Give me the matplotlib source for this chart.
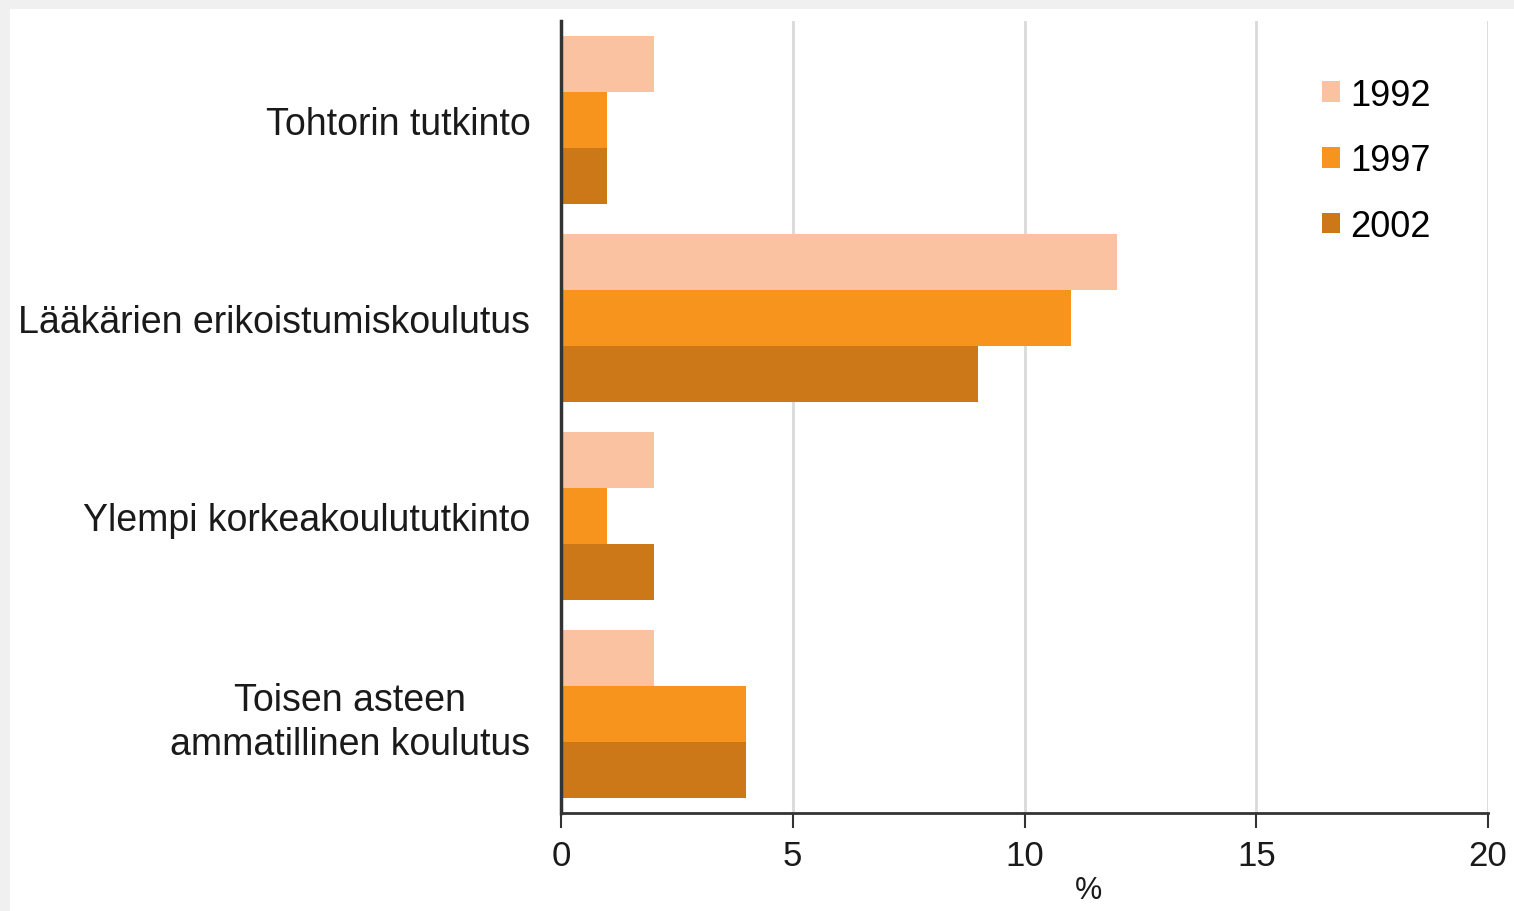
import matplotlib
matplotlib.use('Agg')
import matplotlib.pyplot as plt
from matplotlib.patches import Rectangle
import numpy as np

plt.rcParams['font.family'] = ['Liberation Sans', 'DejaVu Sans']

categories = ['Tohtorin tutkinto',
              'Lääkärien erikoistumiskoulutus',
              'Ylempi korkeakoulututkinto',
              'Toisen asteen\nammatillinen koulutus']
years = ['1992', '1997', '2002']
v1992 = [2, 12, 2, 2]
v1997 = [1, 11, 1, 4]
v2002 = [1, 9, 2, 4]
colors = ['#fbc2a2', '#f7941e', '#cc7718']

fig = plt.figure(figsize=(15.14, 9.12), dpi=100)
fig.patch.set_facecolor('#f0f0f0')
# white panel
fig.patches.append(Rectangle((10/1514, 0), 1, (912-10)/912, transform=fig.transFigure,
                             facecolor='white', edgecolor='none', zorder=-10))

ax = fig.add_axes([561/1514, 98/912, 927/1514, 792/912])
ax.set_facecolor('white')

y = np.arange(len(categories))
h = 0.283
for k, (vals, lab, c) in enumerate(zip([v1992, v1997, v2002], years, colors)):
    ax.barh(y + (k - 1) * h, vals, height=h, color=c, label=lab, zorder=2)

ax.set_xlim(0, 20)
ax.set_ylim(3.5, -0.5)
ax.set_xticks([0, 5, 10, 15, 20])
ax.set_yticks(y)
ax.set_yticklabels(categories, fontsize=27, color='#1a1a1a', multialignment='center', linespacing=1.3)
ax.tick_params(axis='y', length=0, pad=22)
ax.tick_params(axis='x', length=11, width=1.5, color='#333333', labelsize=25, labelcolor='#1a1a1a', pad=8)
ax.grid(axis='x', color='#d9d9d9', linewidth=2, zorder=0)
ax.set_axisbelow(True)
for s in ['top', 'right']:
    ax.spines[s].set_visible(False)
ax.spines['left'].set_color('#333333')
ax.spines['left'].set_linewidth(2.5)
ax.spines['left'].set_zorder(3)
ax.spines['bottom'].set_color('#333333')
ax.spines['bottom'].set_linewidth(2)

ax.set_xlabel('%', fontsize=22, color='#1a1a1a', x=0.569, labelpad=2)

leg = ax.legend(loc='upper left', bbox_to_anchor=(1289/1514, (912-46)/912),
                bbox_transform=fig.transFigure, frameon=False, fontsize=26,
                handlelength=0.5, handleheight=0.5, handletextpad=0.3,
                labelspacing=0.85)

fig.savefig('out.png', dpi=100, facecolor=fig.get_facecolor())
